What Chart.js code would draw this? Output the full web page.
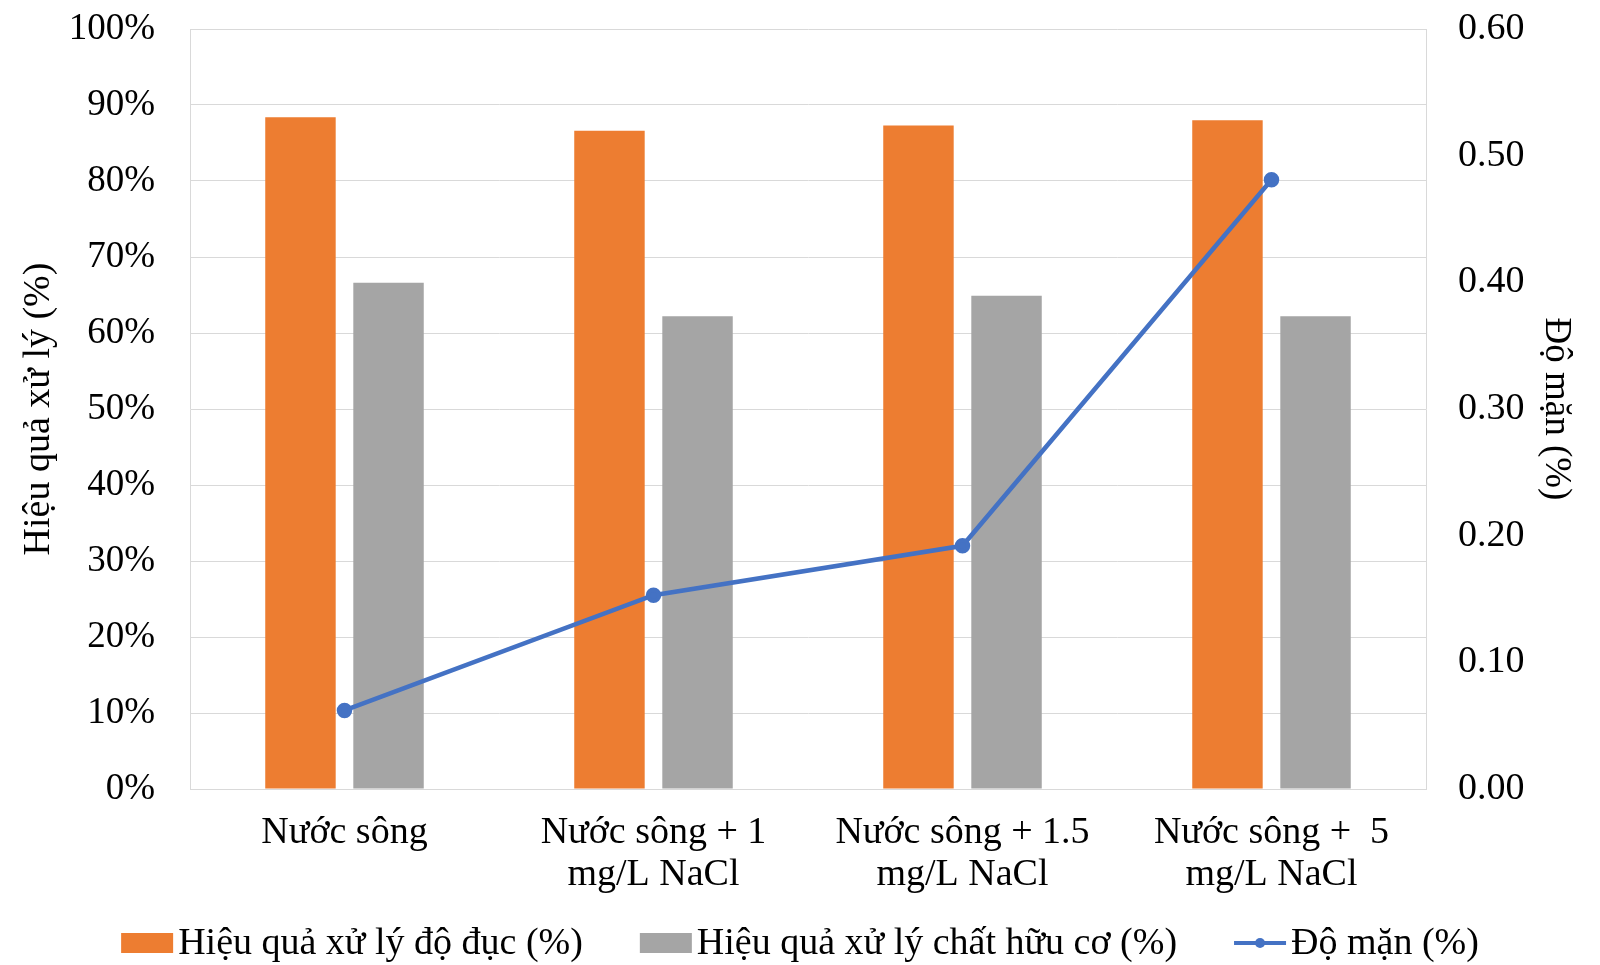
<!DOCTYPE html>
<html>
<head>
<meta charset="utf-8">
<script src="https://cdn.jsdelivr.net/npm/chart.js@4.4.1/dist/chart.umd.min.js"></script>
<style>
  html, body { margin: 0; padding: 0; background: #ffffff; }
  #wrap { width: 1600px; height: 965px; }
</style>
</head>
<body>
<div id="wrap"><canvas id="c" width="1600" height="965"></canvas></div>
<script>
const categories = [
  ["Nước sông"],
  ["Nước sông + 1", "mg/L NaCl"],
  ["Nước sông + 1.5", "mg/L NaCl"],
  ["Nước sông +  5", "mg/L NaCl"]
];
const turbidityEff = [88.4, 86.6, 87.3, 88.0];
const organicEff = [66.6, 62.2, 64.9, 62.2];
const salinity = [0.062, 0.153, 0.192, 0.481];
const leftTicks = [0, 10, 20, 30, 40, 50, 60, 70, 80, 90, 100];
const rightTicks = [0.00, 0.10, 0.20, 0.30, 0.40, 0.50, 0.60];
const seriesNames = ["Hiệu quả xử lý độ đục (%)", "Hiệu quả xử lý chất hữu cơ (%)", "Độ mặn (%)"];

const FONT = "'Liberation Serif', 'Times New Roman', serif";
const ORANGE = '#ED7D31', GRAY = '#A5A5A5', BLUE = '#4472C4', GRID = '#D9D9D9';

const legendPlugin = {
  id: 'customLegend',
  afterDraw(chart) {
    const ctx = chart.ctx;
    ctx.save();
    ctx.font = '38px ' + FONT;
    ctx.textBaseline = 'middle';
    const boxW = 52, boxH = 20, gap = 5, itemGap = 57, y = 943;
    const ds = chart.data.datasets.slice().sort((a, b) => a.legendOrder - b.legendOrder);
    const widths = ds.map(d => boxW + gap + ctx.measureText(d.label).width);
    const total = widths.reduce((a, b) => a + b, 0) + itemGap * (ds.length - 1);
    let x = (chart.width - total) / 2;
    ds.forEach((d, i) => {
      if (d.type === 'line') {
        ctx.strokeStyle = d.borderColor;
        ctx.lineWidth = 4;
        ctx.beginPath();
        ctx.moveTo(x, y);
        ctx.lineTo(x + boxW, y);
        ctx.stroke();
        ctx.fillStyle = d.borderColor;
        ctx.beginPath();
        ctx.arc(x + boxW / 2, y, 5, 0, Math.PI * 2);
        ctx.fill();
      } else {
        ctx.fillStyle = d.backgroundColor;
        ctx.fillRect(x, y - boxH / 2, boxW, boxH);
      }
      ctx.fillStyle = '#000';
      ctx.textAlign = 'left';
      ctx.fillText(d.label, x + boxW + gap, y + 1);
      x += widths[i] + itemGap;
    });
    ctx.restore();
  }
};

function fitVertical(width) {
  return function (s) {
    s.width = width;
    s.paddingTop = 0;
    s.paddingBottom = 0;
  };
}

new Chart(document.getElementById('c'), {
  data: {
    labels: categories,
    datasets: [
      { type: 'line', label: seriesNames[2], data: salinity, yAxisID: 'y1',
        borderColor: BLUE, backgroundColor: BLUE, borderWidth: 4.5,
        pointRadius: 5.5, pointBackgroundColor: BLUE, pointBorderColor: BLUE,
        tension: 0, order: 0, legendOrder: 2 },
      { type: 'bar', label: seriesNames[0], data: turbidityEff, yAxisID: 'y',
        backgroundColor: ORANGE, borderWidth: 0, order: 1, legendOrder: 0,
        categoryPercentage: 0.57, barPercentage: 0.8 },
      { type: 'bar', label: seriesNames[1], data: organicEff, yAxisID: 'y',
        backgroundColor: GRAY, borderWidth: 0, order: 1, legendOrder: 1,
        categoryPercentage: 0.57, barPercentage: 0.8 }
    ]
  },
  options: {
    responsive: false,
    animation: false,
    layout: { autoPadding: false, padding: { top: 29, left: 0, right: 0, bottom: 0 } },
    plugins: { legend: { display: false }, tooltip: { enabled: false } },
    scales: {
      x: {
        offset: true,
        grid: { display: false, drawTicks: false },
        border: { display: true, color: GRID, width: 1 },
        ticks: { color: '#000', font: { family: FONT, size: 38, lineHeight: 1.1 }, padding: 23, maxRotation: 0, autoSkip: false },
        afterFit(s) { s.height = 176; s.paddingLeft = 0; s.paddingRight = 0; }
      },
      y: {
        position: 'left',
        min: 0, max: 100,
        afterBuildTicks(s) { s.ticks = leftTicks.map(v => ({ value: v })); },
        grid: { color: GRID, lineWidth: 1, drawTicks: false },
        border: { display: true, color: GRID, width: 1 },
        ticks: { color: '#000', font: { family: FONT, size: 37 }, padding: 35,
                 callback: v => v + '%' },
        title: { display: true, text: 'Hiệu quả xử lý (%)', color: '#000',
                 font: { family: FONT, size: 38 }, padding: { top: 16, bottom: 0 } },
        afterFit: fitVertical(190)
      },
      y1: {
        position: 'right',
        min: 0, max: 0.6,
        afterBuildTicks(s) { s.ticks = rightTicks.map(v => ({ value: v })); },
        grid: { drawOnChartArea: false, drawTicks: false },
        border: { display: true, color: GRID, width: 1 },
        ticks: { color: '#000', font: { family: FONT, size: 38 }, padding: 32,
                 callback: v => Number(v).toFixed(2) },
        title: { display: true, text: 'Độ mặn (%)', color: '#000',
                 font: { family: FONT, size: 37 }, padding: { top: 22, bottom: 0 } },
        afterFit: fitVertical(174)
      }
    }
  },
  plugins: [legendPlugin]
});
</script>
</body>
</html>
